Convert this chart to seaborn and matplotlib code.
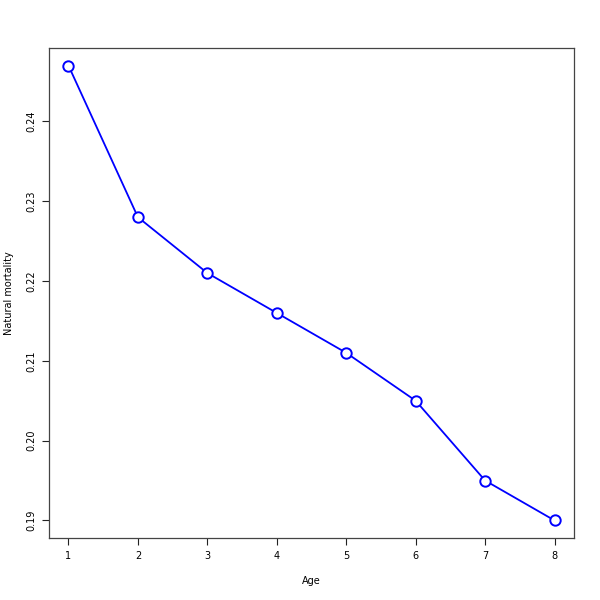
import numpy as np
import pandas as pd
import seaborn as sns
import matplotlib
matplotlib.use('Agg')
import matplotlib.pyplot as plt

# Natural mortality by age
ages = [1, 2, 3, 4, 5, 6, 7, 8]
mortality = [0.247, 0.228, 0.221, 0.216, 0.211, 0.205, 0.195, 0.190]

df = pd.DataFrame({'age': ages, 'm': mortality})

sns.set_style('white')
plt.rcParams['font.family'] = ['DejaVu Sans']
plt.rcParams['text.color'] = 'black'
plt.rcParams['axes.labelcolor'] = 'black'
plt.rcParams['xtick.color'] = 'black'
plt.rcParams['ytick.color'] = 'black'

fig = plt.figure(figsize=(6, 6), dpi=100)
ax = fig.add_axes([0.0817, 0.1033, 0.875, 0.8167])

sns.lineplot(data=df, x='age', y='m', ax=ax, color='blue', linewidth=1.3,
             marker='o', markersize=7.5, markerfacecolor='white',
             markeredgecolor='blue', markeredgewidth=1.4)

ax.set_xlim(0.72, 8.28)
ax.set_ylim(0.1878, 0.2492)
ax.set_xticks(ages)
ax.set_yticks([0.19, 0.20, 0.21, 0.22, 0.23, 0.24])
ax.set_yticklabels(['0.19', '0.20', '0.21', '0.22', '0.23', '0.24'],
                   rotation=90, va='center')
ax.tick_params(axis='both', which='major', labelsize=7, length=5,
               width=0.8, direction='out', color='#222222', pad=4,
               bottom=True, left=True)
ax.set_xlabel('Age', fontsize=7, labelpad=11)
ax.set_ylabel('Natural mortality', fontsize=7, labelpad=9)
for s in ax.spines.values():
    s.set_color('#444444')
    s.set_linewidth(0.9)
ax.grid(False)

fig.savefig('out.png', dpi=100, facecolor='white')
